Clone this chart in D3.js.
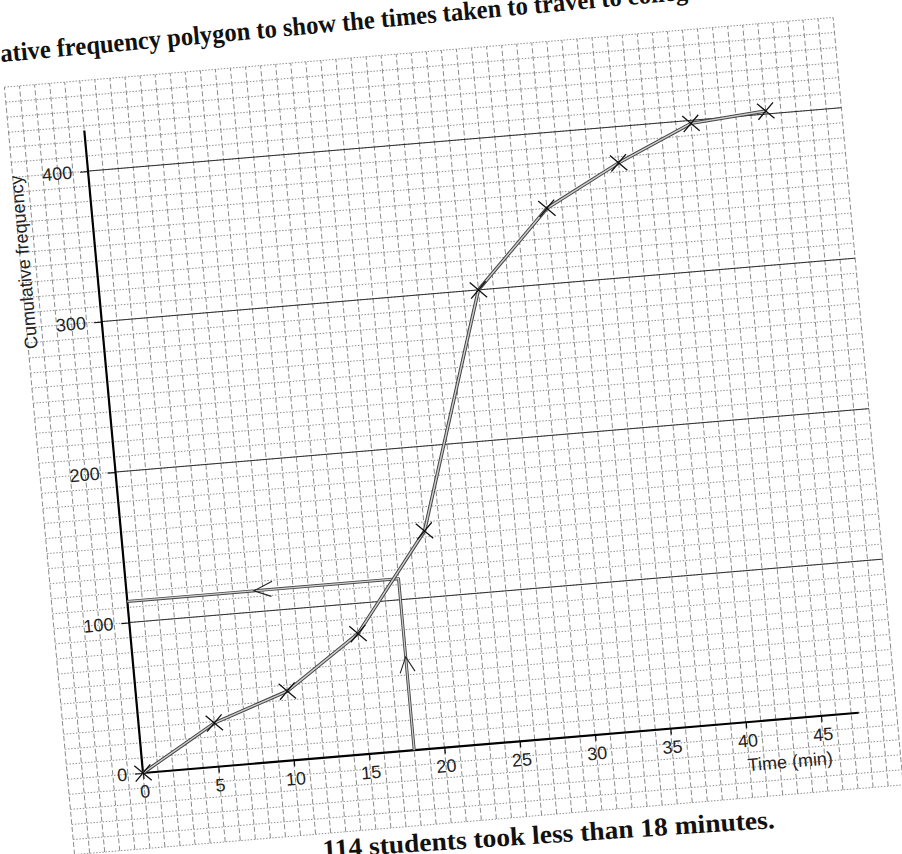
<!DOCTYPE html>
<html><head><meta charset="utf-8">
<script src="https://cdn.jsdelivr.net/npm/d3@7"></script>
<style>html,body{margin:0;padding:0;background:#fff;} svg{display:block}</style>
</head><body>
<svg id="chart" width="902" height="854"></svg>
<script>
// ---- data ----
const times = [0, 5, 10, 15, 20, 25, 30, 35, 40, 45];
const cumFreq = [0, 29, 46, 80, 144, 300, 350, 376, 398, 402];
const xTickValues = [0, 5, 10, 15, 20, 25, 30, 35, 40, 45];
const yTickValues = [0, 100, 200, 300, 400];
const readTime = [18];
const readFreq = [114];
const xLabel = "Time (min)";
const yLabel = "Cumulative frequency";
const headText = "ative frequency polygon to show the times taken to travel to college";
const headVisible = "ative frequency polygon to show the times taken to travel to colleg";
const footText = "114 students took less than 18 minutes.";

const svg = d3.select("#chart");
svg.append("rect").attr("width", 902).attr("height", 854).attr("fill", "#fff");

// ---- scales (chart frame, then tilted like the scan) ----
const pxPerMin = 15.12, pxPerUnit = 1.511;
const x = d3.scaleLinear().domain([0, 45]).range([0, 45 * pxPerMin]);
const y = d3.scaleLinear().domain([0, 400]).range([0, -400 * pxPerUnit]);
const angX = -4.81 * Math.PI / 180, angY = -5.22 * Math.PI / 180;
const M = [Math.cos(angX), Math.sin(angX), -Math.sin(angY), Math.cos(angY), 143, 773];
const g = svg.append("g").attr("transform", `matrix(${M.join(",")})`);

// ---- grid ----
const gx0 = -5, gx1 = 50, gy0 = -50, gy1 = 460;
const grid = g.append("g");
grid.selectAll("line.h").data(d3.range(gy0, gy1 + 1, 10)).join("line")
  .attr("x1", x(gx0)).attr("x2", x(gx1)).attr("y1", d => y(d)).attr("y2", d => y(d))
  .attr("stroke", "#7a7a7a").attr("stroke-width", 0.8).attr("stroke-dasharray", "1.5,1.6");
grid.selectAll("line.v").data(d3.range(gx0, gx1 + 1, 1)).join("line")
  .attr("y1", y(gy0)).attr("y2", y(gy1)).attr("x1", d => x(d)).attr("x2", d => x(d))
  .attr("stroke", "#8a8a8a").attr("stroke-width", 1).attr("stroke-dasharray", "5,2.6");
// major horizontal lines
g.append("g").selectAll("line").data(yTickValues.filter(v => v > 0)).join("line")
  .attr("x1", x(0)).attr("x2", x(gx1)).attr("y1", d => y(d)).attr("y2", d => y(d))
  .attr("stroke", "#222").attr("stroke-width", 0.9);

// ---- axes ----
const fontSans = "'Liberation Sans', Arial, sans-serif";
const xAxis = g.append("g").call(d3.axisBottom(x).tickValues(xTickValues).tickSize(6).tickPadding(6).tickSizeOuter(0));
const yAxis = g.append("g").call(d3.axisLeft(y).tickValues(yTickValues).tickSize(8).tickPadding(8).tickSizeOuter(0));
[xAxis, yAxis].forEach(ax => {
  ax.select(".domain").remove();
  ax.selectAll("line").attr("stroke", "#111").attr("stroke-width", 1.2);
  ax.selectAll("text").attr("font-family", fontSans).attr("font-size", 18).attr("fill", "#222");
});
g.append("line").attr("x1", x(0)).attr("x2", x(47.5)).attr("y1", y(0)).attr("y2", y(0))
  .attr("stroke", "#000").attr("stroke-width", 2.2);
g.append("line").attr("x1", x(0)).attr("x2", x(0)).attr("y1", y(0)).attr("y2", y(427))
  .attr("stroke", "#000").attr("stroke-width", 2.2);

g.append("text").text(xLabel).attr("x", x(42.7)).attr("y", y(0) + 49)
  .attr("text-anchor", "middle").attr("font-family", fontSans).attr("font-size", 18).attr("fill", "#222");
g.append("text").text(yLabel)
  .attr("transform", `translate(${x(-4.8)},${y(343.4)}) rotate(-90)`)
  .attr("dy", "0.35em").attr("text-anchor", "middle")
  .attr("font-family", fontSans).attr("font-size", 18).attr("fill", "#222");

// ---- polygon and reading lines (18 min -> 114) ----
const pts = times.map((t, i) => [t, cumFreq[i]]);
const line = d3.line().x(d => x(d[0])).y(d => y(d[1]));
const readPts = [[0, readFreq[0]], [readTime[0], readFreq[0]], [readTime[0], 0]];
[[readPts, 3.0, 1.2], [pts, 3.4, 1.4]].forEach(([data, wo, wi]) => {
  g.append("path").attr("d", line(data)).attr("fill", "none").attr("stroke", "#444")
    .attr("stroke-width", wo).attr("stroke-linejoin", "round");
  g.append("path").attr("d", line(data)).attr("fill", "none").attr("stroke", "#cfcfcf")
    .attr("stroke-width", wi).attr("stroke-linejoin", "round");
});
// arrow heads
const ah = x(8.4), av = y(readFreq[0]);
g.append("path").attr("d", `M${ah + 19},${av - 8}L${ah},${av}L${ah + 17},${av + 7}`)
  .attr("fill", "none").attr("stroke", "#222").attr("stroke-width", 1.1);
const vx = x(readTime[0]), vy = y(62);
g.append("path").attr("d", `M${vx - 7},${vy + 16}L${vx},${vy}L${vx + 8},${vy + 15}`)
  .attr("fill", "none").attr("stroke", "#222").attr("stroke-width", 1.1);

// ---- crosses ----
g.append("g").selectAll("path").data(pts).join("path")
  .attr("transform", d => `translate(${x(d[0])},${y(d[1])})`)
  .attr("d", d3.symbol(d3.symbolTimes, 170))
  .attr("fill", "none").attr("stroke", "#111").attr("stroke-width", 1.3);

// ---- surrounding text ----
const fontSerif = "'Liberation Serif', 'Times New Roman', serif";
function fitText(str, measureStr, targetLen, fs, tx, ty, rot) {
  const t = svg.append("text").attr("font-family", fontSerif).attr("font-weight", "bold")
    .attr("font-size", fs).text(measureStr);
  const lenVis = t.node().getComputedTextLength();
  t.text(str);
  const lenAll = t.node().getComputedTextLength();
  t.attr("textLength", lenAll * targetLen / lenVis).attr("lengthAdjust", "spacingAndGlyphs")
    .attr("fill", "#111").attr("transform", `translate(${tx},${ty}) rotate(${rot})`);
}
fitText(headText, headVisible, 690, 26, 1, 62, -5.2);
fitText(footText, footText, 453, 26, 323, 858, -3.8);
</script>
</body></html>
